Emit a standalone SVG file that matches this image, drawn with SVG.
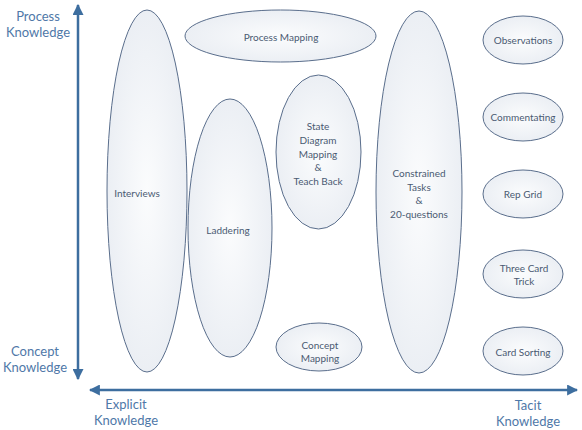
<svg xmlns="http://www.w3.org/2000/svg" width="582" height="430" viewBox="0 0 582 430">
<style>
.n ellipse{fill:url(#g);stroke:#5a6e8c;stroke-width:1}
.t{font-family:Lato,"Open Sans",sans-serif;font-size:10px;fill:#4a5a72;text-anchor:middle}
.a{font-family:Lato,"Open Sans",sans-serif;font-size:13px;fill:#4f78a8;text-anchor:middle}
.ax{stroke:#3d6e9f;stroke-width:2.5;fill:none}
</style>
<defs>
<radialGradient id="g" cx="0.5" cy="0.5" r="0.6">
<stop offset="0" stop-color="#fbfcfd"/>
<stop offset="1" stop-color="#e8ecf2"/>
</radialGradient>
<marker id="ar" viewBox="0 0 10 10" refX="9" refY="5" markerWidth="4.4" markerHeight="4.4" orient="auto-start-reverse" markerUnits="strokeWidth">
<path d="M0,0 L10,5 L0,10 Z" fill="#3d6e9f"/>
</marker>
</defs>
<rect width="582" height="430" fill="#fff"/>
<g id="connectors">
<line class="ax" x1="78" y1="5" x2="78" y2="379" marker-start="url(#ar)" marker-end="url(#ar)"/>
<line class="ax" x1="90" y1="390" x2="577" y2="390" marker-start="url(#ar)" marker-end="url(#ar)"/>
</g>
<g id="labels">
<text class="a" x="38" y="21">Process</text>
<text class="a" x="38" y="37">Knowledge</text>
<text class="a" x="35" y="356">Concept</text>
<text class="a" x="35" y="372">Knowledge</text>
<text class="a" x="126" y="409">Explicit</text>
<text class="a" x="126" y="425">Knowledge</text>
<text class="a" x="528" y="410">Tacit</text>
<text class="a" x="528" y="426">Knowledge</text>
</g>
<g id="interviews" class="n"><ellipse cx="147" cy="191" rx="40" ry="181"/><text class="t" x="137" y="197">Interviews</text></g>
<g id="process-mapping" class="n"><ellipse cx="280.5" cy="36" rx="95.5" ry="26"/><text class="t" x="281" y="41">Process Mapping</text></g>
<g id="laddering" class="n"><ellipse cx="230" cy="228" rx="42" ry="129"/><text class="t" x="228" y="234">Laddering</text></g>
<g id="state-diagram" class="n"><ellipse cx="318.5" cy="152" rx="42.5" ry="77"/>
<text class="t" x="318" y="130">State</text><text class="t" x="318" y="144">Diagram</text><text class="t" x="318" y="158">Mapping</text><text class="t" x="318" y="171">&amp;</text><text class="t" x="318" y="185">Teach Back</text></g>
<g id="concept-mapping" class="n"><ellipse cx="319" cy="347" rx="43" ry="24"/><text class="t" x="320" y="349">Concept</text><text class="t" x="320" y="362">Mapping</text></g>
<g id="constrained" class="n"><ellipse cx="419" cy="192" rx="43" ry="181"/>
<text class="t" x="419" y="177">Constrained</text><text class="t" x="419" y="191">Tasks</text><text class="t" x="419" y="204">&amp;</text><text class="t" x="419" y="218">20-questions</text></g>
<g id="observations" class="n"><ellipse cx="523" cy="40" rx="40" ry="24"/><text class="t" x="523" y="44">Observations</text></g>
<g id="commentating" class="n"><ellipse cx="523" cy="117" rx="40" ry="24"/><text class="t" x="523" y="121">Commentating</text></g>
<g id="rep-grid" class="n"><ellipse cx="523" cy="194" rx="40" ry="24"/><text class="t" x="523" y="198">Rep Grid</text></g>
<g id="three-card" class="n"><ellipse cx="523" cy="274" rx="40" ry="24"/><text class="t" x="524" y="272">Three Card</text><text class="t" x="524" y="285">Trick</text></g>
<g id="card-sorting" class="n"><ellipse cx="523" cy="351" rx="40" ry="24"/><text class="t" x="523" y="356">Card Sorting</text></g>
</svg>
